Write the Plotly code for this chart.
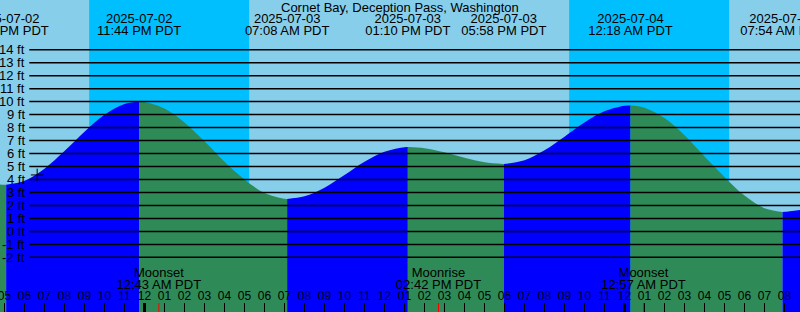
import plotly.graph_objects as go
import pandas as pd

TITLE = "Cornet Bay, Deception Pass, Washington"
FONT = "Liberation Sans"

# ---- tide extremes (high / low) ----
EXT_TIMES = ["2025-07-02 17:05", "2025-07-02 23:44", "2025-07-03 07:08",
             "2025-07-03 13:10", "2025-07-03 17:58", "2025-07-04 00:18",
             "2025-07-04 07:54"]
EXT_HEIGHTS = [3.6, 10.0, 2.5, 6.5, 5.2, 9.7, 1.5]
EXT_KIND = ["L", "H", "L", "H", "L", "H", "L"]

# ---- hourly tide heights (ft) ----
CURVE_TIMES = (
    [f"2025-07-02 {h:02d}:00" for h in range(16, 24)]
    + [f"2025-07-03 {h:02d}:00" for h in range(0, 24)]
    + [f"2025-07-04 {h:02d}:00" for h in range(0, 10)]
)
CURVE_HEIGHTS = [
    3.72, 3.60, 3.90, 4.83, 6.19, 7.68, 8.99, 9.81,
    9.98, 9.47, 8.40, 6.94, 5.36, 4.00, 2.96, 2.51, 2.70, 3.37, 4.34, 5.36,
    6.14, 6.49, 6.41, 6.09, 5.67, 5.33, 5.20, 5.49, 6.25, 7.30, 8.39, 9.25,
    9.68, 9.53, 8.73, 7.40, 5.77, 4.20, 2.76, 1.78, 1.51, 1.70,
]

# ---- sun (night bands) ----
SUNSETS = ["2025-07-02 21:14", "2025-07-03 21:14"]
SUNRISES = ["2025-07-03 05:14", "2025-07-04 05:14"]

# ---- moon events ----
MOON_NAMES = ["Moonrise", "Moonset", "Moonrise", "Moonset"]
MOON_TIMES = ["2025-07-02 15:16", "2025-07-03 00:43", "2025-07-03 14:42",
              "2025-07-04 00:57"]

# ---- current time marker ----
NOW_TIME = "2025-07-02 18:38"
NOW_HEIGHT = 4.35

# ---- y axis labels ----
Y_TICKS = list(range(-2, 15))
Y_LABELS = [f"{v} ft" for v in Y_TICKS]

MIDNIGHTS = ["2025-07-03 00:00", "2025-07-04 00:00"]
HOURS = pd.date_range("2025-07-02 16:00", "2025-07-04 09:00", freq="h")

X_RANGE = ["2025-07-02 16:46:30", "2025-07-04 08:46:30"]
Y_RANGE = [-6.21, 17.83]
W, H = 800, 312

DAY = "#87CEEB"
NIGHT = "#00BFFF"
RISE = "#0000FF"
FALL = "#2E8B57"

fig = go.Figure()

# merge curve readings with extremes
pts = sorted(
    [(pd.Timestamp(t), v) for t, v in zip(CURVE_TIMES, CURVE_HEIGHTS)]
    + [(pd.Timestamp(t), v) for t, v in zip(EXT_TIMES, EXT_HEIGHTS)]
)
ext_ts = [pd.Timestamp(t) for t in EXT_TIMES]
bounds = [pts[0][0]] + ext_ts + [pts[-1][0]]
for i in range(len(bounds) - 1):
    a, b = bounds[i], bounds[i + 1]
    seg = [p for p in pts if a <= p[0] <= b]
    if i < len(EXT_KIND):
        rising = EXT_KIND[i] == "H"
    else:
        rising = EXT_KIND[-1] == "L"
    col = RISE if rising else FALL
    fig.add_trace(go.Scatter(x=[a, b], y=[Y_RANGE[0], Y_RANGE[0]], mode="lines",
                             line=dict(width=0), hoverinfo="skip", showlegend=False))
    fig.add_trace(go.Scatter(x=[p[0] for p in seg], y=[p[1] for p in seg],
                             mode="lines", line=dict(width=0, shape="spline", color=col),
                             fill="tonexty", fillcolor=col, hoverinfo="skip",
                             showlegend=False))

# current-time marker
fig.add_trace(go.Scatter(x=[NOW_TIME], y=[NOW_HEIGHT], mode="markers",
                         marker=dict(symbol="cross-thin", size=9,
                                     line=dict(width=1, color="black")),
                         showlegend=False, hoverinfo="skip"))

txt = dict(family=FONT, size=13, color="black")

# top labels for tide extremes
ext_dt = [pd.Timestamp(t) for t in EXT_TIMES]
fig.add_trace(go.Scatter(x=ext_dt, y=[19.5] * len(ext_dt), yaxis="y2", mode="text",
                         text=[t.strftime("%Y-%m-%d") for t in ext_dt],
                         textfont=txt, cliponaxis=False, showlegend=False, hoverinfo="skip"))
fig.add_trace(go.Scatter(x=ext_dt, y=[32] * len(ext_dt), yaxis="y2", mode="text",
                         text=[t.strftime("%I:%M %p PDT") for t in ext_dt],
                         textfont=txt, cliponaxis=False, showlegend=False, hoverinfo="skip"))

# moon labels
moon_dt = [pd.Timestamp(t) for t in MOON_TIMES]
fig.add_trace(go.Scatter(x=moon_dt, y=[274] * len(moon_dt), yaxis="y2", mode="text",
                         text=MOON_NAMES, textfont=txt, cliponaxis=False,
                         showlegend=False, hoverinfo="skip"))
fig.add_trace(go.Scatter(x=moon_dt, y=[285.5] * len(moon_dt), yaxis="y2", mode="text",
                         text=[t.strftime("%I:%M %p PDT") for t in moon_dt],
                         textfont=txt, cliponaxis=False, showlegend=False, hoverinfo="skip"))

# hour labels
fig.add_trace(go.Scatter(x=HOURS, y=[297] * len(HOURS), yaxis="y2", mode="text",
                         text=[t.strftime("%I") for t in HOURS],
                         textfont=dict(family=FONT, size=12, color="black"),
                         cliponaxis=False, showlegend=False, hoverinfo="skip"))

shapes = []
for s, r in zip(SUNSETS, SUNRISES):
    shapes.append(dict(type="rect", xref="x", yref="paper", x0=s, x1=r, y0=0, y1=1,
                       fillcolor=NIGHT, line=dict(width=0), layer="below"))
for v in Y_TICKS:
    shapes.append(dict(type="line", xref="paper", yref="y", x0=29.3 / W, x1=1,
                       y0=v, y1=v, line=dict(color="black", width=1.5), layer="above"))
for m in MIDNIGHTS:
    shapes.append(dict(type="line", xref="x", yref="paper", x0=m, x1=m,
                       y0=0, y1=9 / H, line=dict(color="black", width=3), layer="above"))
for m in MOON_TIMES:
    shapes.append(dict(type="line", xref="x", yref="paper", x0=m, x1=m,
                       y0=0, y1=9 / H, line=dict(color="red", width=1), layer="above"))

annotations = [dict(text=TITLE, xref="paper", yref="paper", x=0.5, y=1 - 7.5 / H,
                    xanchor="center", yanchor="middle", showarrow=False, font=txt)]
for v, lab in zip(Y_TICKS, Y_LABELS):
    annotations.append(dict(text=lab, xref="paper", yref="y", x=26.5 / W, y=v,
                            xanchor="right", yanchor="middle", showarrow=False,
                            font=txt))

fig.update_layout(
    width=W, height=H, margin=dict(l=0, r=0, t=0, b=0),
    paper_bgcolor=DAY, plot_bgcolor=DAY,
    shapes=shapes, annotations=annotations,
    xaxis=dict(type="date", range=X_RANGE, showgrid=False, zeroline=False,
               showline=False, ticks="inside", ticklen=9, tickwidth=1,
               tickcolor="black", tickmode="linear", tick0="2025-07-02 17:00",
               dtick=3600000, showticklabels=False, fixedrange=True),
    yaxis=dict(range=Y_RANGE, visible=False, fixedrange=True),
    yaxis2=dict(range=[H, 0], overlaying="y", visible=False, fixedrange=True),
    showlegend=False,
)

fig.write_html("out.html", config={"displayModeBar": False, "staticPlot": True})
